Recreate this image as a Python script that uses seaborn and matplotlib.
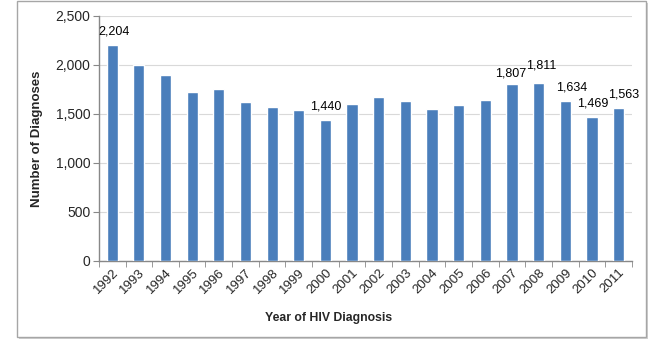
import matplotlib
matplotlib.use("Agg")
import matplotlib.pyplot as plt
import seaborn as sns
import pandas as pd
from matplotlib.patches import Rectangle

years = [str(y) for y in range(1992, 2012)]
diagnoses = [2204, 1998, 1893, 1720, 1754, 1621, 1574, 1537, 1440, 1602,
             1677, 1636, 1551, 1595, 1639, 1807, 1811, 1634, 1469, 1563]
labeled_years = ["1992", "2000", "2007", "2008", "2009", "2010", "2011"]
y_ticks = [0, 500, 1000, 1500, 2000, 2500]

# label offsets in pixels (style only)
label_offsets = {"1992": (2, 13), "2000": (0, 13), "2007": (-1, 10), "2008": (3, 18),
                 "2009": (6, 13), "2010": (1, 13), "2011": (5, 13)}

sns.set_style("white")
plt.rcParams["font.family"] = ["Liberation Sans", "DejaVu Sans"]

df = pd.DataFrame({"year": years, "n": diagnoses})

fig = plt.figure(figsize=(6.59, 3.47), dpi=100)
# chart frame with shadow
fig.patches.append(Rectangle((0.029, 0.022), 0.954, 0.968, transform=fig.transFigure,
                             facecolor="#d0d0d0", edgecolor="none", zorder=-3))
fig.patches.append(Rectangle((0.026, 0.029), 0.954, 0.968, transform=fig.transFigure,
                             facecolor="white", edgecolor="#a6a6a6", linewidth=1.0, zorder=-2))

ax = fig.add_axes([0.150, 0.248, 0.809, 0.706])
ax.set_zorder(1)
ax.set_facecolor("none")
sns.barplot(data=df, x="year", y="n", color="#4a7ebb", saturation=1, width=0.42, ax=ax, zorder=3)

ax.set_ylim(0, 2500)
ax.set_xlim(-0.5, len(years) - 0.5)
ax.set_yticks(y_ticks)
ax.set_yticklabels([f"{v:,}" for v in y_ticks], fontsize=10)
ax.yaxis.grid(True, color="#d9d9d9", linewidth=0.8, zorder=0)
ax.set_axisbelow(True)

ax.set_xticks(range(len(years)))
ax.set_xticklabels(years, rotation=45, ha="right", rotation_mode="anchor", fontsize=9.5)
ax.tick_params(axis="x", which="major", length=0, pad=4)
ax.set_xticks([i + 0.5 for i in range(-1, len(years))], minor=True)
ax.tick_params(axis="x", which="minor", length=4, color="#888888", direction="out", bottom=True)
ax.tick_params(axis="y", length=4, color="#888888", direction="out", pad=2, left=True)

for s in ["top", "right"]:
    ax.spines[s].set_visible(False)
for s in ["left", "bottom"]:
    ax.spines[s].set_color("#888888")
    ax.spines[s].set_linewidth(1.0)

ax.set_ylabel("Number of Diagnoses", fontsize=9.5, fontweight="bold", labelpad=9)
ax.set_xlabel("Year of HIV Diagnosis", fontsize=8.8, fontweight="bold")
ax.xaxis.set_label_coords(0.43, -0.21)

for i, (y, v) in enumerate(zip(years, diagnoses)):
    if y in labeled_years:
        dx, dy = label_offsets[y]
        ax.annotate(f"{v:,}", (i, v), xytext=(dx, dy), textcoords="offset pixels",
                    ha="center", va="center", fontsize=9, color="black")

fig.savefig("out.png", dpi=100)
